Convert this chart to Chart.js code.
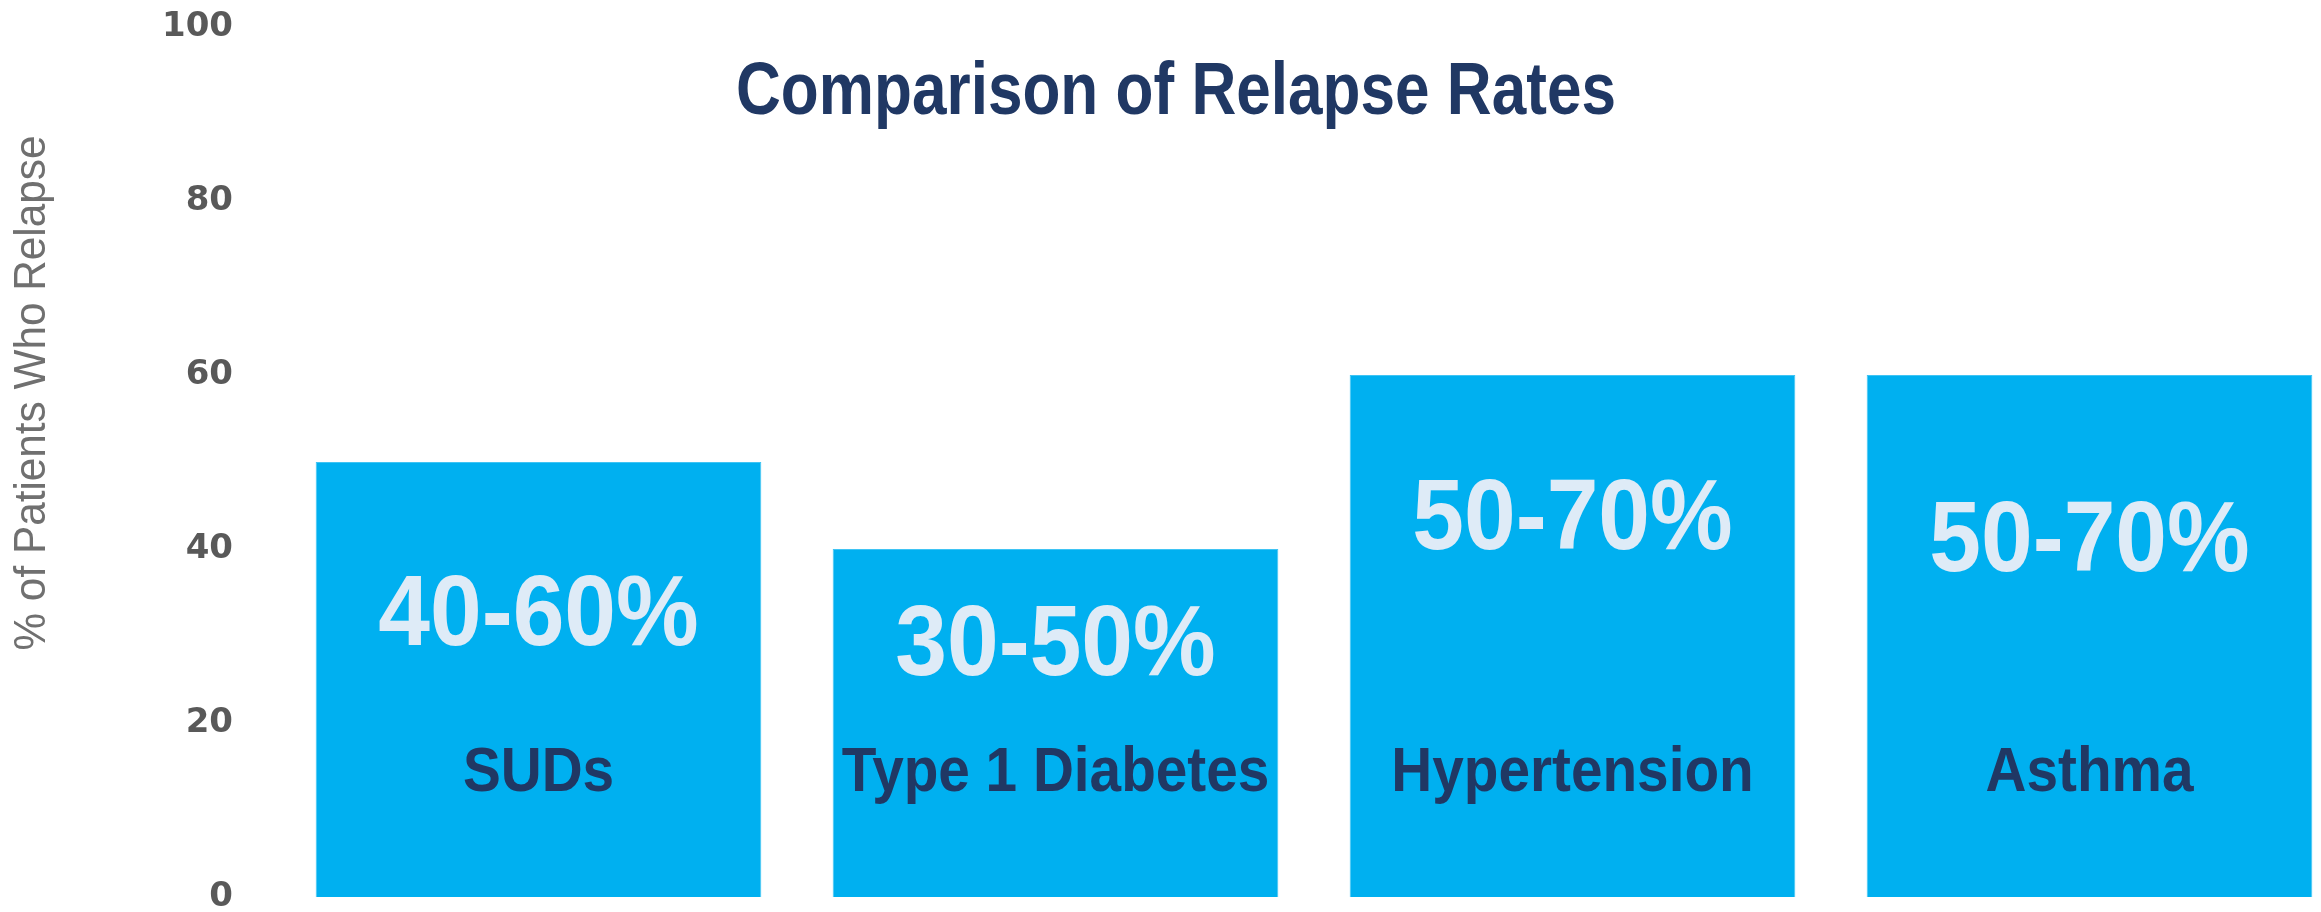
<!DOCTYPE html>
<html>
<head>
<meta charset="utf-8">
<title>Comparison of Relapse Rates</title>
<script src="https://cdn.jsdelivr.net/npm/chart.js@4.4.1/dist/chart.umd.min.js"></script>
<style>
  html, body { margin: 0; padding: 0; background: #fff; overflow: hidden; }
  #wrap { width: 2352px; height: 912px; }
</style>
</head>
<body>
<div id="wrap"><canvas id="container" width="2352" height="912"></canvas></div>
<script>
// chart data
var categories = ['SUDs', 'Type 1 Diabetes', 'Hypertension', 'Asthma'];
var relapseValues = [50, 40, 60, 60];
var rangeLabels = ['40-60%', '30-50%', '50-70%', '50-70%'];
var yTicks = [0, 20, 40, 60, 80, 100];

var chartTitle = 'Comparison of Relapse Rates';
var yTitle = '% of Patients Who Relapse';

// where the texts inside the bars sit (in axis units, baseline)
var rangeLabelAt = [29, 25.5, 40, 37.5];
var categoryLabelAt = 12.2;

var NAVY = '#203864';
var CYAN = '#00B0F0';
var PALE = '#DEEBF7';

var drawText = function(ctx, text, x, y, font, color, opts){
    opts = opts || {};
    ctx.save();
    ctx.font = font;
    ctx.fillStyle = color;
    ctx.textAlign = 'center';
    ctx.textBaseline = opts.baseline || 'alphabetic';
    ctx.translate(x, y);
    if (opts.rotate) ctx.rotate(opts.rotate);
    var sx = opts.scaleX || 1;
    if (opts.width) sx = opts.width / ctx.measureText(text).width;
    ctx.scale(sx, 1);
    ctx.fillText(text, 0, 0);
    ctx.restore();
};

var barTexts = {
    id: 'barTexts',
    afterDatasetsDraw: function(chart){
        var ctx = chart.ctx;
        var yScale = chart.scales.y;
        var bars = chart.getDatasetMeta(0).data;
        for (var i = 0; i < bars.length; i++) {
            drawText(ctx, rangeLabels[i], bars[i].x, yScale.getPixelForValue(rangeLabelAt[i]),
                '700 100px "Liberation Sans", Arial, sans-serif', PALE, {scaleX: 0.93});
            drawText(ctx, categories[i], bars[i].x, yScale.getPixelForValue(categoryLabelAt),
                '700 63px "Liberation Sans", Arial, sans-serif', NAVY, {scaleX: 0.9});
        }
    },
    afterDraw: function(chart){
        var ctx = chart.ctx;
        //title sits inside the plot, over the empty top part
        drawText(ctx, chartTitle, 1176, 114,
            '700 74px "Liberation Sans Narrow", "Liberation Sans", sans-serif', NAVY, {width: 880});
        //axis title is not centred on the plot in the original
        drawText(ctx, yTitle, 33, 393,
            '45px "Liberation Sans Narrow", "Liberation Sans", sans-serif', '#707070',
            {width: 515, rotate: -Math.PI / 2, baseline: 'middle'});
    }
};

var chart = new Chart(document.getElementById('container'), {
    type: 'bar',
    data: {
        labels: categories,
        datasets: [{
            data: relapseValues,
            backgroundColor: CYAN,
            borderColor: '#3fc4f4',
            borderWidth: 1,
            barPercentage: 0.862,
            categoryPercentage: 1
        }]
    },
    options: {
        responsive: false,
        animation: false,
        events: [],
        layout: {
            padding: {top: 27, bottom: 15, left: 0, right: 4}
        },
        plugins: {
            legend: {display: false},
            title: {display: false},
            tooltip: {enabled: false}
        },
        scales: {
            x: {
                display: false
            },
            y: {
                min: 0,
                max: 100,
                afterFit: function(scale){
                    scale.width = 280;
                },
                afterBuildTicks: function(scale){
                    scale.ticks = yTicks.map(function(v){ return {value: v}; });
                },
                //tick marks are hidden, their length only keeps the labels off the bars
                grid: {display: false, drawTicks: true, tickLength: 47},
                border: {display: false},
                ticks: {
                    padding: 0,
                    color: '#595959',
                    font: {family: '"DejaVu Sans", Verdana, sans-serif', weight: 'bold', size: 34, lineHeight: 0.8}
                }
            }
        }
    },
    plugins: [barTexts]
});
</script>
</body>
</html>
